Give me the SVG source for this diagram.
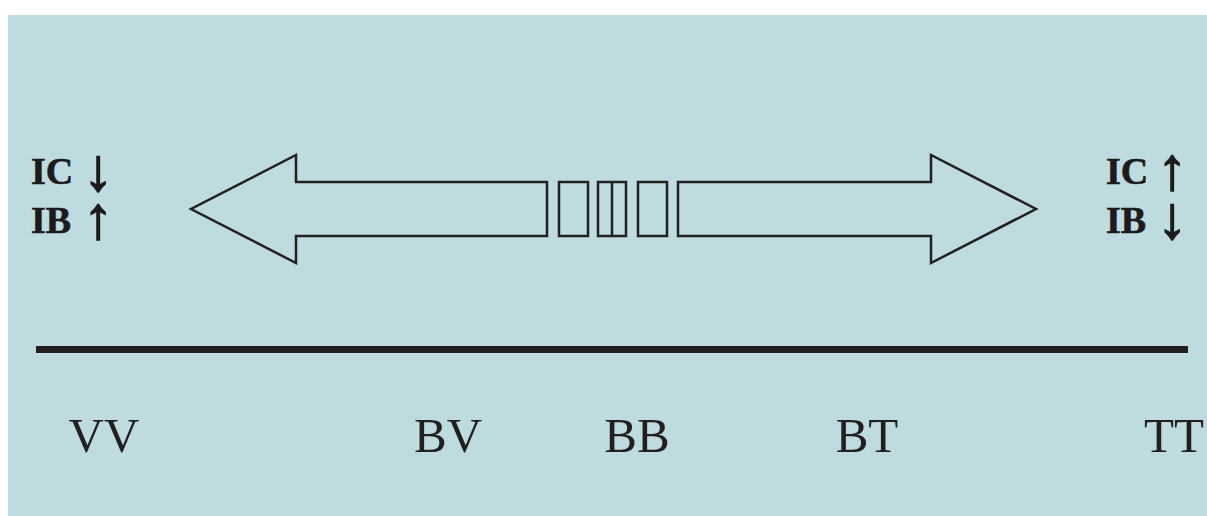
<svg xmlns="http://www.w3.org/2000/svg" width="1207" height="516" viewBox="0 0 1207 516">
<style>
.bg{fill:#bedce0}
.shape{fill:none;stroke:#231f20;stroke-width:2.5;stroke-linejoin:miter}
.lbl{font-family:"Liberation Serif",serif;font-weight:bold;font-size:38px;fill:#1d1a1b;stroke:#1d1a1b;stroke-width:0.6}
.arr{font-family:"Liberation Serif",serif;font-weight:bold;font-size:60px;text-anchor:middle;stroke-width:1.4}
.axis{font-family:"Liberation Serif",serif;font-size:49px;fill:#231f20;text-anchor:middle}
</style>
<rect class="bg" x="8" y="15" width="1199" height="501"/>
<g id="left-arrow">
<path class="shape" d="M547,182 L296,182 L296,155 L191,209 L296,263 L296,236 L547,236 Z"/>
</g>
<g id="middle-blocks">
<rect class="shape" x="559" y="182" width="29" height="54"/>
<rect class="shape" x="598" y="182" width="28" height="54"/>
<line class="shape" x1="612" y1="182" x2="612" y2="236"/>
<rect class="shape" x="638" y="182" width="29" height="54"/>
</g>
<g id="right-arrow">
<path class="shape" d="M678,182 L931,182 L931,155 L1036,209 L931,263 L931,236 L678,236 Z"/>
</g>
<g id="left-labels">
<text class="lbl" x="31" y="184">IC <tspan class="arr" x="98" y="190">↓</tspan></text>
<text class="lbl" x="31" y="233">IB <tspan class="arr" x="98" y="238">↑</tspan></text>
</g>
<g id="right-labels">
<text class="lbl" x="1106" y="184">IC <tspan class="arr" x="1172" y="189">↑</tspan></text>
<text class="lbl" x="1106" y="233">IB <tspan class="arr" x="1172" y="238">↓</tspan></text>
</g>
<g id="connectors">
<line x1="36" y1="349.5" x2="1188" y2="349.5" stroke="#231f20" stroke-width="7"/>
</g>
<g id="axis-labels">
<text class="axis" x="104" y="452">VV</text>
<text class="axis" x="448" y="452">BV</text>
<text class="axis" x="637" y="452">BB</text>
<text class="axis" x="867" y="452">BT</text>
<text class="axis" x="1174" y="452">TT</text>
</g>
</svg>
